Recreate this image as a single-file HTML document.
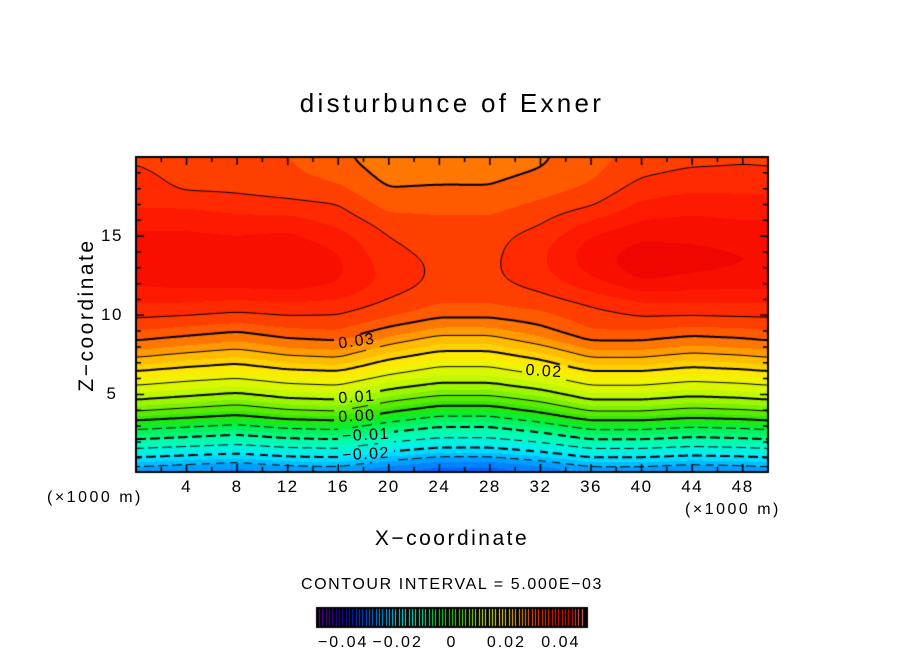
<!DOCTYPE html>
<html><head><meta charset="utf-8"><style>
html,body{margin:0;padding:0;background:#fff;}
#root{position:relative;width:904px;height:654px;overflow:hidden;font-family:"Liberation Sans","DejaVu Sans",sans-serif;color:#000;}
.t{position:absolute;white-space:nowrap;}
canvas{position:absolute;left:0;top:0;}
</style></head><body>
<div id="root">
<canvas id="cv" width="904" height="654"></canvas>
<div class="t" style="left:0;width:904px;text-align:center;top:88px;font-size:26px;letter-spacing:3.3px;">disturbunce of Exner</div>
<div class="t" style="left:87px;top:315px;font-size:21px;letter-spacing:2.5px;transform:translate(-50%,-50%) rotate(-90deg);">Z−coordinate</div>
<div class="t" style="left:0;width:904px;text-align:center;top:527px;font-size:21px;letter-spacing:2.5px;">X−coordinate</div>
<div class="t" style="left:47px;top:489px;font-size:16px;letter-spacing:2.5px;">(×1000 m)</div>
<div class="t" style="left:685px;top:501px;font-size:16px;letter-spacing:2.5px;">(×1000 m)</div>
<div class="t" style="left:0;width:904px;text-align:center;top:576px;font-size:16px;letter-spacing:1.6px;">CONTOUR INTERVAL = 5.000E−03</div>
<div id="labels"></div>
</div>
<script>
// ---- data ----
const xCols = [0,4,8,12,16,20,24,28,32,36,40,44,48,50];
const zRows = [0,1,2,3,4,5,6,7,8,9,10,11,12,13,14,15,16,17,18,19,20];
// field values (x1000) per z row, columns follow xCols
const fieldRows = [
[-29,-29.9,-30.8,-29.5,-29,-31.7,-33.5,-33.5,-31.7,-29,-29,-29.9,-29.5,-29],
[-20,-21.1,-22.2,-20.5,-20,-23.2,-25.4,-25.4,-23.2,-20,-20,-21.1,-20.5,-20],
[-11,-12.1,-13.2,-11.6,-11,-14.4,-16.6,-16.6,-14.4,-11,-11,-12.1,-11.6,-11],
[-3,-4.3,-5.6,-3.6,-3,-6.8,-9.4,-9.4,-6.8,-3,-3,-4.3,-3.6,-3],
[6,4.4,2.8,5.2,6,1.4,-2.1,-2.1,1.4,6,6,4.4,5.2,6],
[12.3,11.1,9.8,11.7,12.3,8.5,6,6,8.5,12.3,12.3,11.1,11.7,12.3],
[17.2,15.9,15,16.6,17.2,13.9,11.7,11.7,13.9,17.2,17.2,15.9,16.6,17.2],
[23.5,21.8,20.5,22.7,23.5,19,16.2,16.2,19,23.5,23.5,21.8,22.7,23.5],
[28.5,27.2,25.9,27.9,28.5,24.6,21.6,21.6,24.6,28.5,28.5,27.2,27.9,28.5],
[32.5,31.4,30.3,31.9,32.5,29.1,26.5,26.5,29.1,32.5,32.5,31.4,31.9,32.5],
[35.7,35.3,34.6,35.2,35,33,30.9,30.9,31.8,34,35.3,35.3,35.5,35.5],
[38,38,37.5,38,37.5,35,33,33,34.2,36,38,38,38,38],
[40.5,41,41,41.5,40,36.5,34.3,34.3,36,39,42,41.5,41,41],
[41,42,42,42.5,40.5,36.5,34.5,34.5,37,41,44,43,42.5,42.5],
[41,41.5,41.5,42,40,35.5,34.3,34.3,37,41.5,43.5,43,42.5,42.5],
[40.5,40.5,40,40.5,38.5,35,34,34,36,40,42,42,41.5,41.5],
[39,39,38.5,38.5,36.5,33.5,33,33,34.5,37.5,40,40.5,40,40],
[37,37,36,35.5,35,31.5,31.5,31.5,33,34.5,38,39,38.5,38.5],
[36.5,34.5,34.5,34,33,30,30.3,30.2,31.5,33,36,37,37,37],
[35.5,34,34,33,31.5,29,29,29.2,30.2,32,34.5,35.5,35.5,35.3],
[34.5,33.5,33.5,32.5,30.5,28.5,28,28.5,29.5,31.5,33.5,34,34.5,34.5]
];
const contourLevels = [-25,-20,-15,-10,-5,0,5,10,15,20,25,30,35];
const xTickLabels = [4,8,12,16,20,24,28,32,36,40,44,48];
const yTickLabels = [5,10,15];
const cbTickLabels = [-0.04,-0.02,0,0.02,0.04];
const contourLabels = [
 {text:"0.03",x:17.5,z:8.3,rot:-8},
 {text:"0.02",x:32.3,z:6.4,rot:4},
 {text:"0.01",x:17.5,z:4.8,rot:-4},
 {text:"0.00",x:17.5,z:3.6,rot:-3},
 {text:"−0.01",x:18.2,z:2.4,rot:-3},
 {text:"−0.02",x:18.2,z:1.2,rot:-3}
];
// ---- layout ----
const PL=136,PR=768,PT=157,PB=472, XMIN=0,XMAX=50,ZMIN=0.1,ZMAX=20;
const sx=v=>PL+(v-XMIN)/(XMAX-XMIN)*(PR-PL);
const sy=v=>PB-(v-ZMIN)/(ZMAX-ZMIN)*(PB-PT);
const cv=document.getElementById('cv');const ctx=cv.getContext('2d');
function fieldAt(x,z){
 let i=0;while(i<xCols.length-2&&x>xCols[i+1])i++;
 let j=0;while(j<zRows.length-2&&z>zRows[j+1])j++;
 const tx=Math.max(0,Math.min(1,(x-xCols[i])/(xCols[i+1]-xCols[i])));
 const tz=Math.max(0,Math.min(1,(z-zRows[j])/(zRows[j+1]-zRows[j])));
 const a=fieldRows[j][i],b=fieldRows[j][i+1],c=fieldRows[j+1][i],d=fieldRows[j+1][i+1];
 return (a*(1-tx)+b*tx)*(1-tz)+(c*(1-tx)+d*tx)*tz;
}
const cstops=[[-50,[110,0,170]],[-40,[20,0,200]],[-32,[0,90,255]],[-27,[0,150,255]],[-20,[0,235,255]],[-12,[0,255,180]],[-5,[0,240,70]],[0,[40,230,0]],[6,[120,240,0]],[12,[200,250,0]],[18,[255,240,0]],[24,[255,185,0]],[29,[255,115,0]],[33,[255,70,0]],[37,[255,35,0]],[41,[250,15,0]],[45,[235,0,0]],[50,[255,140,140]]];
function colorOf(v){
 if(v<=cstops[0][0])return cstops[0][1];
 for(let k=0;k<cstops.length-1;k++){const [a,ca]=cstops[k],[b,cb]=cstops[k+1];
  if(v<=b){const t=(v-a)/(b-a);return ca.map((c,n)=>Math.round(c+(cb[n]-c)*t));}}
 return cstops[cstops.length-1][1];
}
// fine grid
const W=PR-PL,H=PB-PT;let F=new Float32Array(W*H);
for(let py=0;py<H;py++)for(let px=0;px<W;px++){
 const x=XMIN+(px+0.5)/W*(XMAX-XMIN),z=ZMAX-(py+0.5)/H*(ZMAX-ZMIN);F[py*W+px]=fieldAt(x,z);}
function blur(A,r){const B=new Float32Array(W*H);
 for(let y=0;y<H;y++)for(let x=0;x<W;x++){let s=0,n=0;for(let k=-r;k<=r;k++){const xx=Math.min(W-1,Math.max(0,x+k));s+=A[y*W+xx];n++;}B[y*W+x]=s/n;}
 const C=new Float32Array(W*H);
 for(let y=0;y<H;y++)for(let x=0;x<W;x++){let s=0,n=0;for(let k=-r;k<=r;k++){const yy=Math.min(H-1,Math.max(0,y+k));s+=B[yy*W+x];n++;}C[y*W+x]=s/n;}
 return C;}
F=blur(F,7);F=blur(F,5);
const img=ctx.createImageData(W,H);
for(let k=0;k<W*H;k++){const q=Math.floor(F[k]/2.5)*2.5+1.25;const c=colorOf(q);img.data[k*4]=c[0];img.data[k*4+1]=c[1];img.data[k*4+2]=c[2];img.data[k*4+3]=255;}
ctx.putImageData(img,PL,PT);
// label boxes
const labelBoxes=contourLabels.map(l=>({cx:sx(l.x),cy:sy(l.z),w:l.text.length*10+6,h:16}));
function inLabel(x,y){return labelBoxes.some(b=>Math.abs(x-b.cx)<b.w/2&&Math.abs(y-b.cy)<b.h/2);}
// marching squares
const step=2;
function val(px,py){px=Math.min(W-1,px);py=Math.min(H-1,py);return F[py*W+px];}
contourLevels.forEach(L=>{
 const segs=[];
 for(let py=0;py<H-1;py+=step)for(let px=0;px<W-1;px+=step){
  const x1=Math.min(W-1,px+step),y1=Math.min(H-1,py+step);
  const v=[val(px,py),val(x1,py),val(x1,y1),val(px,y1)];
  const P=[[px,py],[x1,py],[x1,y1],[px,y1]];const pts=[];
  for(let e=0;e<4;e++){const a=v[e],b=v[(e+1)%4];if((a<L)!==(b<L)){const t=(L-a)/(b-a);const A=P[e],B=P[(e+1)%4];pts.push([A[0]+(B[0]-A[0])*t+PL,A[1]+(B[1]-A[1])*t+PT]);}}
  if(pts.length>=2)segs.push([pts[0],pts[1]]);if(pts.length===4)segs.push([pts[2],pts[3]]);
 }
 const thick=(L%10===0);
 ctx.strokeStyle='#000';ctx.lineWidth=thick?2:1;
 ctx.beginPath();
 segs.forEach(s=>{const mx=(s[0][0]+s[1][0])/2,my=(s[0][1]+s[1][1])/2;
  if(inLabel(mx,my))return;
  if(L<0){const ph=(mx+my*0.2)%14;if(ph>9)return;}
  ctx.moveTo(s[0][0],s[0][1]);ctx.lineTo(s[1][0],s[1][1]);});
 ctx.stroke();
});
// frame
ctx.strokeStyle='#000';ctx.lineWidth=2;ctx.strokeRect(PL,PT,W,H);
// ticks
ctx.lineWidth=1.5;ctx.beginPath();
for(let x=2;x<50;x+=2){const L=(x%4===0)?8:5;ctx.moveTo(sx(x),PB);ctx.lineTo(sx(x),PB-L);ctx.moveTo(sx(x),PT);ctx.lineTo(sx(x),PT+L);}
for(let z=1;z<20;z++){const L=(z%5===0)?8:5;ctx.moveTo(PL,sy(z));ctx.lineTo(PL+L,sy(z));ctx.moveTo(PR,sy(z));ctx.lineTo(PR-L,sy(z));}
ctx.stroke();
// colorbar
const CBL=316,CBR=588,CBT=607,CBB=628;
ctx.fillStyle='#000';ctx.fillRect(CBL,CBT,CBR-CBL,CBB-CBT);
for(let k=0;k<80;k++){const v=-50+(k+0.5)*1.25;const c=colorOf(v);ctx.fillStyle='rgb('+c+')';const x=CBL+3+(k/80)*(CBR-CBL-6);ctx.fillRect(Math.round(x),CBT+2,1,CBB-CBT-4);}
// html labels
const lab=document.getElementById('labels');
function addText(txt,x,y,size,name,ls,extra){const d=document.createElement('div');d.className='t';d.textContent=txt;
 d.style.left=x+'px';d.style.top=y+'px';d.style.fontSize=size+'px';d.style.letterSpacing=ls+'px';d.style.transform='translate(-50%,-50%)'+(extra||'');
 
 
 lab.appendChild(d);}
xTickLabels.forEach(v=>addText(String(v),sx(v),487,17,'x-tick-label',1.5));
yTickLabels.forEach(v=>addText(String(v),PL-24,sy(v),17,'y-tick-label',1.5));
contourLabels.forEach(l=>addText(l.text,sx(l.x),sy(l.z),16,'contour-label',1.5,' rotate('+l.rot+'deg)'));
cbTickLabels.forEach(v=>addText(v===0?'0':(v<0?'−':'')+Math.abs(v).toFixed(2),CBL+(v+0.05)/0.1*(CBR-CBL),643,16,'colorbar-tick-label',2));
</script>
</body></html>
